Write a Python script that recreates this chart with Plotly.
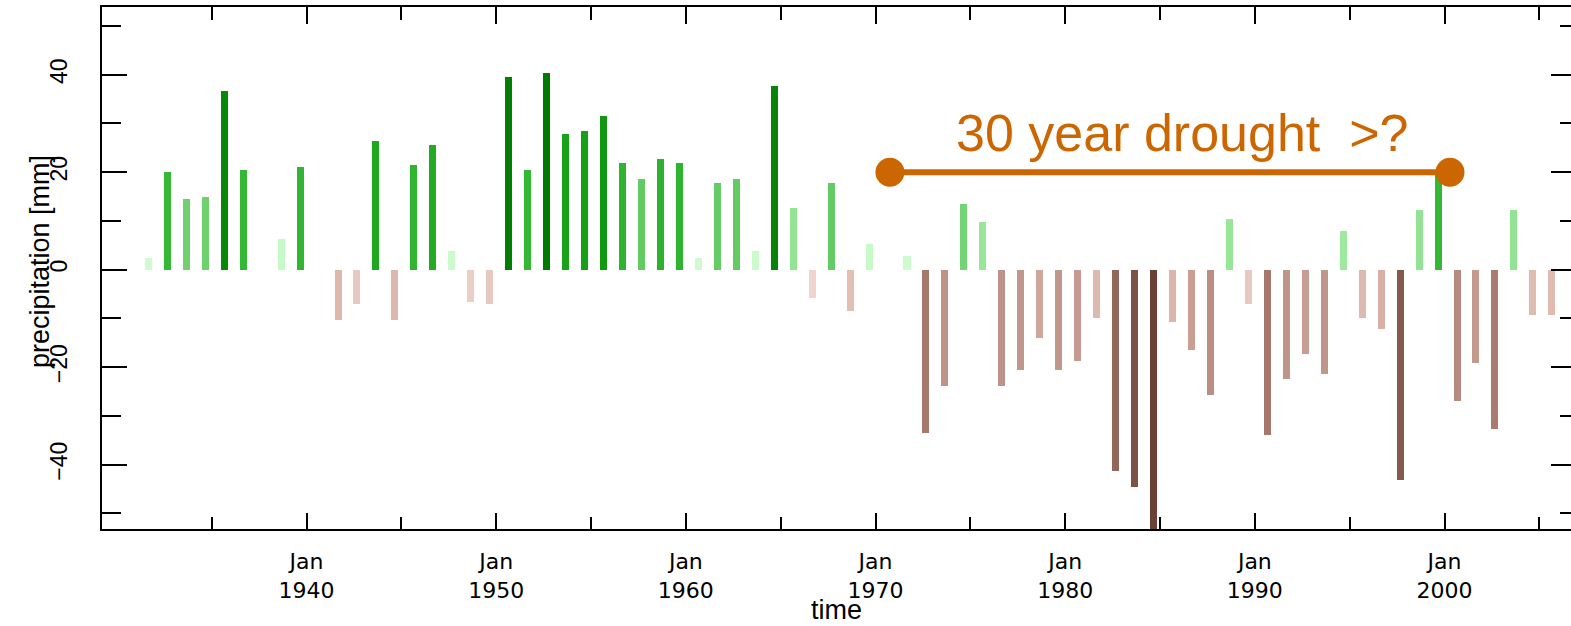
import numpy as np
import plotly.graph_objects as go

# ---------------- data ----------------
years = list(range(1931, 2006))
precip = [
    2.45, 20.0, 14.5, 15.0, 36.7, 20.4, 0.0, 6.2, 21.0, 0.0,      # 1931-1940
    -10.4, -7.1, 26.5, -10.4, 21.5, 25.6, 3.9, -6.7, -7.1, 39.5,  # 1941-1950
    20.4, 40.4, 27.9, 28.4, 31.6, 21.9, 18.6, 22.8, 21.9, 2.45,   # 1951-1960
    17.7, 18.6, 3.9, 37.6, 12.6, -5.75, 17.7, -8.55, 5.2, 0.0,    # 1961-1970
    2.9, -33.5, -23.9, 13.5, 9.85, -23.9, -20.5, -14.1, -20.5, -18.7,  # 1971-1980
    -9.85, -41.4, -44.7, -56.0, -10.8, -16.4, -25.7, 10.3, -7.1, -33.9,  # 1981-1990
    -22.4, -17.4, -21.5, 8.0, -9.85, -12.2, -43.2, 12.2, 20.5, -27.0,  # 1991-2000
    -19.2, -32.6, 12.2, -9.4, -9.4,                                    # 2001-2005
]
x_major = [1940, 1950, 1960, 1970, 1980, 1990, 2000]
x_labels = ["Jan<br>1940", "Jan<br>1950", "Jan<br>1960", "Jan<br>1970",
            "Jan<br>1980", "Jan<br>1990", "Jan<br>2000"]
x_minor = [1935, 1945, 1955, 1965, 1975, 1985, 1995, 2005]
y_major = [-40, -20, 0, 20, 40]
y_minor = [-50, -30, -10, 10, 30, 50]
drought_x = [1970.76, 2000.29]
drought_y = [20, 20]
drought_label = "30 year drought\u00a0 >?"

# ---------------- colour mapping (by magnitude) ----------------
pos_stops = [(0, "#d2ffd2"), (6.5, "#c6f9c6"), (7, "#a0eaa0"), (13, "#92e292"),
             (13.4, "#72d472"), (19.5, "#5fc95f"), (19.8, "#36b936"), (26, "#22ab22"),
             (28, "#17a117"), (33, "#0e940e"), (36, "#0a8a0a"), (41, "#007800")]
neg_stops = [(0, "#f5dfd9"), (6, "#efd5ce"), (8, "#e3c0b6"), (11, "#dbb5aa"),
             (15, "#cda296"), (20, "#c2978c"), (25, "#bc9085"), (30, "#b08276"),
             (34, "#a5786b"), (41, "#96695d"), (44, "#7f5448"), (56, "#6b4035")]


def hex2rgb(h):
    h = h.lstrip("#")
    return [int(h[i:i + 2], 16) for i in (0, 2, 4)]


def interp_color(v, stops):
    xs = [s[0] for s in stops]
    cs = np.array([hex2rgb(s[1]) for s in stops], dtype=float)
    rgb = [int(round(np.interp(v, xs, cs[:, k]))) for k in range(3)]
    return "rgb(%d,%d,%d)" % tuple(rgb)


colors = [interp_color(v, pos_stops) if v >= 0 else interp_color(-v, neg_stops)
          for v in precip]

ORANGE = "#cc6600"
XR = [1929.216, 2006.67]
YR = [-53.22, 53.9]

fig = go.Figure()
fig.add_trace(go.Bar(
    x=years, y=precip, width=0.37, offset=0.475,
    marker=dict(color=colors, line=dict(width=0)),
    showlegend=False, hoverinfo="x+y",
))
fig.add_trace(go.Scatter(
    x=drought_x, y=drought_y, mode="lines+markers",
    line=dict(color=ORANGE, width=6),
    marker=dict(color=ORANGE, size=29),
    showlegend=False, hoverinfo="skip",
))
# helper trace so the mirrored (top/right) axes are drawn
fig.add_trace(go.Scatter(x=[None], y=[None], xaxis="x2", yaxis="y2",
                         showlegend=False, hoverinfo="skip"))

tick_common = dict(ticks="inside", tickwidth=2, tickcolor="black",
                   showgrid=False, zeroline=False, linecolor="black")

fig.update_layout(
    width=1571, height=626,
    margin=dict(l=102, r=0, t=7, b=97),
    paper_bgcolor="white", plot_bgcolor="white",
    bargap=0,
    xaxis=dict(range=XR, tickmode="array", tickvals=x_major, ticktext=x_labels,
               ticklen=16, showline=True, linewidth=2,
               minor=dict(tickmode="array", tickvals=x_minor, ticks="inside",
                          ticklen=12, tickwidth=2, tickcolor="black"),
               tickfont=dict(family="DejaVu Sans", size=22, color="black"),
               ticklabelstandoff=12, **tick_common),
    xaxis2=dict(range=XR, overlaying="x", side="top", anchor="y",
                tickmode="array", tickvals=x_major, showticklabels=False,
                ticklen=17, showline=True, linewidth=2,
                minor=dict(tickmode="array", tickvals=x_minor, ticks="inside",
                           ticklen=12.7, tickwidth=2, tickcolor="black"),
                **tick_common),
    yaxis=dict(range=YR, tickmode="array", tickvals=y_major,
               ticklen=25, showline=True, linewidth=2, tickangle=-90,
               minor=dict(tickmode="array", tickvals=y_minor, ticks="inside",
                          ticklen=18.7, tickwidth=2, tickcolor="black"),
               tickfont=dict(family="Liberation Sans", size=23, color="black"),
               ticklabelstandoff=24, **tick_common),
    yaxis2=dict(range=YR, overlaying="y", side="right", anchor="x",
                tickmode="array", tickvals=y_major, showticklabels=False,
                ticklen=20, showline=False,
                minor=dict(tickmode="array", tickvals=y_minor, ticks="inside",
                           ticklen=11, tickwidth=2, tickcolor="black"),
                **tick_common),
    annotations=[
        dict(text=drought_label, x=1986.17, y=28.0, xref="x", yref="y",
             showarrow=False, xanchor="center", yanchor="middle",
             font=dict(family="Liberation Sans", size=52, color=ORANGE)),
        dict(text="precipitation [mm]", x=-0.0422, y=0.5115, xref="paper", yref="paper",
             showarrow=False, textangle=-90, xanchor="center", yanchor="middle",
             font=dict(family="Liberation Sans", size=27, color="black")),
        dict(text="time", x=0.5, y=-0.155, xref="paper", yref="paper",
             showarrow=False, xanchor="center", yanchor="middle",
             font=dict(family="Liberation Sans", size=27, color="black")),
    ],
)

fig.write_html("out.html")
